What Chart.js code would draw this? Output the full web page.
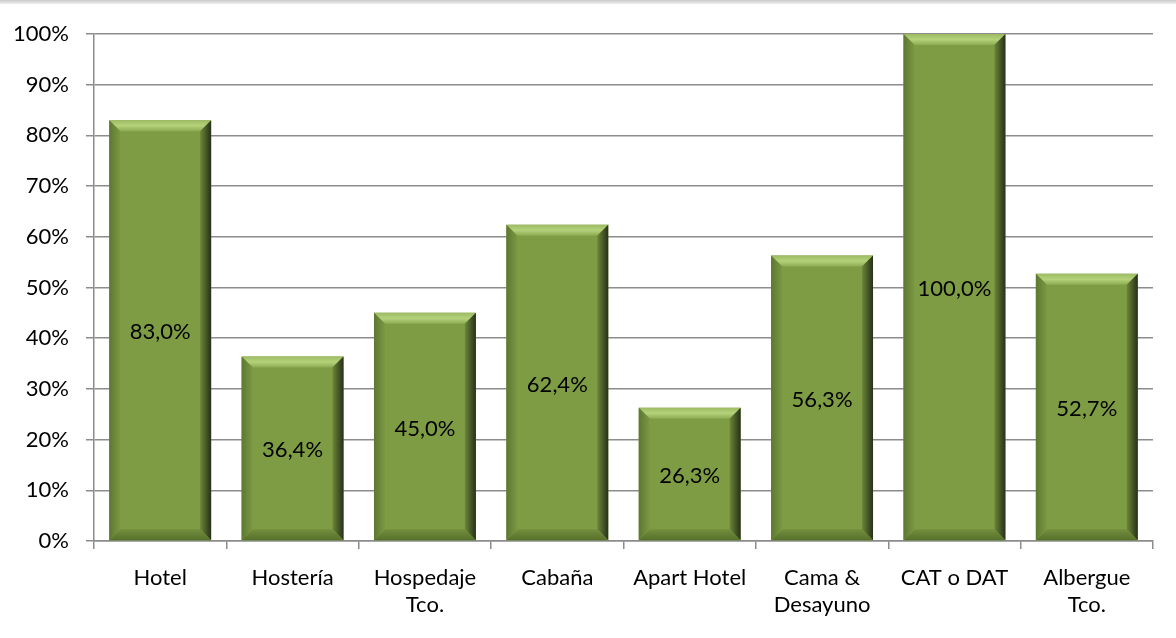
<!DOCTYPE html>
<html>
<head>
<meta charset="utf-8">
<script src="https://cdn.jsdelivr.net/npm/chart.js@4"></script>
<style>
  html, body { margin: 0; padding: 0; background: #fff; }
  #wrap { width: 1176px; height: 638px; position: relative; }
  #topline { position: absolute; left: 0; top: 0; width: 1176px; height: 4px;
             background: linear-gradient(#c8c8c8, #f0f0f0); }
</style>
</head>
<body>
<div id="wrap">
  <div id="topline"></div>
  <canvas id="chart" width="1176" height="638"></canvas>
</div>
<script>
// categorias y valores (%)
const categories = [
    'Hotel', 'Hostería', ['Hospedaje', 'Tco.'], 'Cabaña',
    'Apart Hotel', ['Cama &', 'Desayuno'], 'CAT o DAT', ['Albergue', 'Tco.']
];
const values = [83.0, 36.4, 45.0, 62.4, 26.3, 56.3, 100.0, 52.7];
const yTicks = [0, 10, 20, 30, 40, 50, 60, 70, 80, 90, 100];

const FONT = 'Lato, "Open Sans", sans-serif';

// bisel tipo Excel sobre cada barra
const bevelPlugin = {
    id: 'bevel',
    afterDatasetsDraw(chart) {
        const ctx = chart.ctx;
        chart.getDatasetMeta(0).data.forEach(function (bar) {
            const p = bar.getProps(['x', 'y', 'base', 'width'], true);
            const l = p.x - p.width / 2, r = p.x + p.width / 2;
            const t = p.y, b = p.base;
            const s = 11;

            ctx.save();
            // top
            let g = ctx.createLinearGradient(0, t, 0, t + s);
            g.addColorStop(0, '#9dbb62');
            g.addColorStop(0.5, '#b3d27a');
            g.addColorStop(1, '#8dab52');
            ctx.fillStyle = g;
            ctx.beginPath();
            ctx.moveTo(l, t); ctx.lineTo(r, t); ctx.lineTo(r - s, t + s); ctx.lineTo(l + s, t + s);
            ctx.closePath(); ctx.fill();

            // right
            g = ctx.createLinearGradient(r - s, 0, r, 0);
            g.addColorStop(0, '#6c8638');
            g.addColorStop(1, '#26301a');
            ctx.fillStyle = g;
            ctx.beginPath();
            ctx.moveTo(r, t); ctx.lineTo(r, b); ctx.lineTo(r - s, b - s); ctx.lineTo(r - s, t + s);
            ctx.closePath(); ctx.fill();

            // bottom
            g = ctx.createLinearGradient(0, b - s, 0, b);
            g.addColorStop(0, '#748f3e');
            g.addColorStop(1, '#56702b');
            ctx.fillStyle = g;
            ctx.beginPath();
            ctx.moveTo(l, b); ctx.lineTo(r, b); ctx.lineTo(r - s, b - s); ctx.lineTo(l + s, b - s);
            ctx.closePath(); ctx.fill();

            // left
            g = ctx.createLinearGradient(l, 0, l + s, 0);
            g.addColorStop(0, '#5d7830');
            g.addColorStop(1, '#7b9843');
            ctx.fillStyle = g;
            ctx.beginPath();
            ctx.moveTo(l, t); ctx.lineTo(l, b); ctx.lineTo(l + s, b - s); ctx.lineTo(l + s, t + s);
            ctx.closePath(); ctx.fill();
            ctx.restore();
        });
    },
    afterDraw(chart) {
        const ctx = chart.ctx;
        ctx.save();
        ctx.fillStyle = '#000';
        ctx.font = '22px ' + FONT;
        ctx.textAlign = 'center';
        ctx.textBaseline = 'middle';
        chart.getDatasetMeta(0).data.forEach(function (bar, i) {
            const p = bar.getProps(['x', 'y', 'base'], true);
            ctx.fillText(values[i].toFixed(1).replace('.', ',') + '%', p.x, (p.y + p.base) / 2 + 2);
        });
        ctx.restore();
    }
};

new Chart(document.getElementById('chart'), {
    type: 'bar',
    data: {
        labels: categories,
        datasets: [{
            data: values,
            backgroundColor: '#7e9c44',
            borderWidth: 0,
            barPercentage: 0.77,
            categoryPercentage: 1
        }]
    },
    options: {
        responsive: false,
        animation: false,
        layout: { padding: { top: 34, right: 23, left: 0, bottom: 0 } },
        plugins: { legend: { display: false }, tooltip: { enabled: false } },
        scales: {
            y: {
                min: 0, max: 100,
                afterFit(scale) { scale.width = 94; },
                afterBuildTicks(scale) { scale.ticks = yTicks.map(v => ({ value: v })); },
                ticks: {
                    color: '#000',
                    font: { family: FONT, size: 22 },
                    padding: 17,
                    callback: v => v + '%'
                },
                grid: { color: '#8c8c8c', lineWidth: 1.5, tickLength: 8 },
                border: { color: '#8c8c8c', width: 1.5 }
            },
            x: {
                afterFit(scale) { scale.height = 97; },
                ticks: {
                    color: '#000',
                    font: { family: FONT, size: 22, lineHeight: 1.2 },
                    padding: 16,
                    maxRotation: 0
                },
                grid: { display: true, drawOnChartArea: false, offset: true,
                        color: '#8c8c8c', lineWidth: 1.5, tickLength: 8 },
                border: { color: '#8c8c8c', width: 1.5 }
            }
        }
    },
    plugins: [bevelPlugin]
});
</script>
</body>
</html>
